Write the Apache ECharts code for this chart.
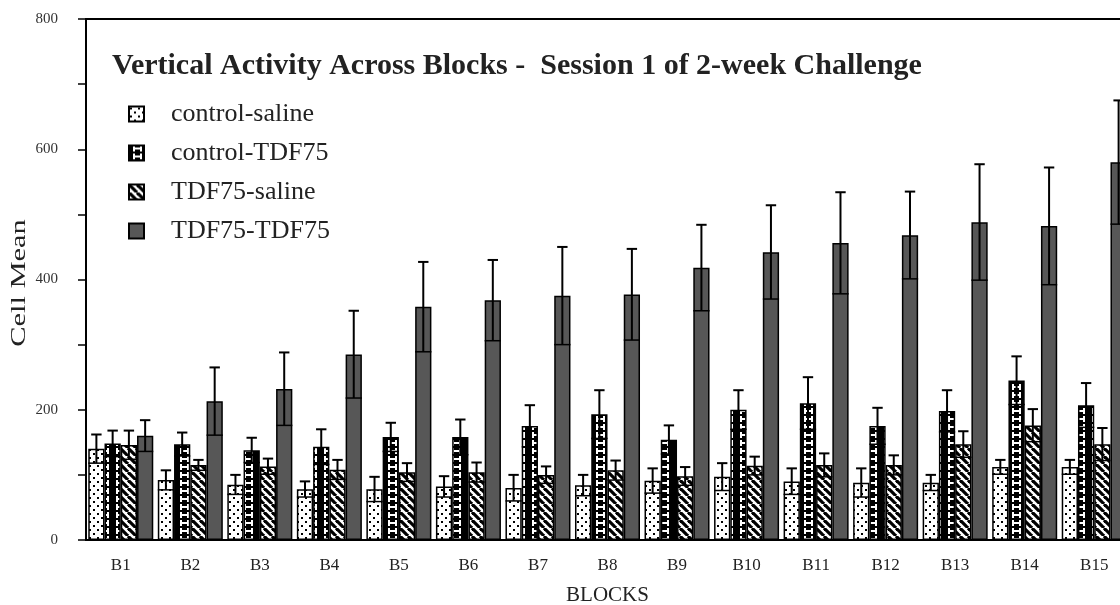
<!DOCTYPE html>
<html><head><meta charset="utf-8">
<script src="https://cdn.jsdelivr.net/npm/echarts@6/dist/echarts.min.js"></script>
<style>html,body{margin:0;padding:0;background:#fff}#c{width:1120px;height:605px}</style>
</head><body><div id="c"></div>
<script>
const categories = ['B1','B2','B3','B4','B5','B6','B7','B8','B9','B10','B11','B12','B13','B14','B15'];
const seriesNames = ['control-saline','control-TDF75','TDF75-saline','TDF75-TDF75'];
const controlSalineMean = [140, 92, 85, 78, 78, 82, 80, 84, 91, 97, 90, 88, 88, 112, 112];
const controlSalineSE   = [22, 15, 15, 12, 19, 16, 20, 16, 19, 21, 20, 22, 12, 11, 11];
const controlTDF75Mean  = [148, 147, 138, 143, 158, 158, 175, 193, 154, 200, 210, 175, 198, 245, 207];
const controlTDF75SE    = [20, 18, 19, 27, 22, 27, 32, 37, 22, 30, 40, 28, 32, 37, 34];
const tdfSalineMean     = [146, 115, 113, 108, 104, 104, 100, 107, 98, 114, 115, 115, 147, 176, 147];
const tdfSalineSE       = [22, 8, 12, 15, 14, 15, 13, 15, 14, 14, 18, 15, 20, 25, 25];
const tdfTDF75Mean      = [160, 213, 232, 285, 358, 368, 375, 377, 418, 442, 456, 468, 488, 482, 580];
const tdfTDF75SE        = [24, 52, 56, 67, 69, 62, 75, 70, 66, 72, 78, 67, 89, 90, 95];
const yTicks = [0, 200, 400, 600, 800];
const yAxisTitle = 'Cell Mean';

const means = [controlSalineMean, controlTDF75Mean, tdfSalineMean, tdfTDF75Mean];
const ses = [controlSalineSE, controlTDF75SE, tdfSalineSE, tdfTDF75SE];

function tile(w, h, draw) {
  const c = document.createElement('canvas'); c.width = w; c.height = h;
  const g = c.getContext('2d'); draw(g, w, h); return c;
}
const dots = tile(8, 8, (g) => {
  g.fillStyle = '#fff'; g.fillRect(0, 0, 8, 8);
  g.fillStyle = '#000'; g.fillRect(1, 1, 2, 2); g.fillRect(5, 5, 2, 2);
});
const brick = tile(16, 8, (g) => {
  g.fillStyle = '#000'; g.fillRect(0, 0, 16, 8);
  g.fillStyle = '#fff';
  g.fillRect(4, 0, 2, 6); g.fillRect(11, 0, 2, 6); g.fillRect(4, 2, 9, 2);
});
const diag = tile(8, 8, (g) => {
  g.fillStyle = '#fff'; g.fillRect(0, 0, 8, 8);
  g.strokeStyle = '#000'; g.lineWidth = 3.2;
  for (let k = -8; k <= 8; k += 8) { g.beginPath(); g.moveTo(k, 0); g.lineTo(k + 8, 8); g.stroke(); }
});
const fills = [
  { image: dots, repeat: 'repeat' },
  { image: brick, repeat: 'repeat' },
  { image: diag, repeat: 'repeat' },
  '#575757'
];

const catGap = 0.065;
const serif = 'Liberation Serif, Times New Roman, serif';

const barSeries = seriesNames.map((name, i) => ({
  name, type: 'bar', barGap: '0%', barCategoryGap: (catGap * 100) + '%',
  data: means[i],
  itemStyle: { color: fills[i], borderColor: '#000', borderWidth: 1.5 },
  emphasis: { disabled: true }, z: 2
}));

const errSeries = seriesNames.map((name, i) => ({
  type: 'custom', name: name + '-err', z: 5, silent: true,
  data: categories.map((c, k) => [k, means[i][k], ses[i][k]]),
  encode: { x: 0, y: 1 },
  renderItem: function (params, api) {
    const k = api.value(0), m = api.value(1), s = api.value(2);
    const band = api.size([1, 0])[0];
    const w = band * (1 - catGap) / 4;
    const x = api.coord([k, m])[0] + (i - 1.5) * w;
    const yHi = api.coord([k, m + s])[1];
    const yLo = api.coord([k, m - s])[1];
    const cap = w * 0.32;
    const st = { stroke: '#000', lineWidth: 2 };
    return { type: 'group', children: [
      { type: 'line', shape: { x1: x, y1: yLo, x2: x, y2: yHi }, style: st },
      { type: 'line', shape: { x1: x - cap, y1: yHi, x2: x + cap, y2: yHi }, style: st },
      { type: 'line', shape: { x1: x - w / 2, y1: yLo, x2: x + w / 2, y2: yLo }, style: { stroke: '#000', lineWidth: 1.5 } }
    ]};
  }
}));

const chart = echarts.init(document.getElementById('c'), null, { renderer: 'canvas' });
chart.setOption({
  animation: false,
  backgroundColor: '#fff',
  textStyle: { fontFamily: serif },
  title: {
    text: 'Vertical Activity Across Blocks -  Session 1 of 2-week Challenge',
    left: 112, top: 51, padding: 0,
    textStyle: { fontFamily: serif, fontWeight: 'bold', fontSize: 30, color: '#222' }
  },
  legend: {
    data: seriesNames, orient: 'vertical', left: 128, top: 101, padding: 0,
    icon: 'rect', itemWidth: 15, itemHeight: 15, itemGap: 13,
    textStyle: { fontFamily: serif, fontSize: 26, color: '#222', padding: [0, 0, 0, 22], lineHeight: 26 },
    selectedMode: false
  },
  graphic: [{
    type: 'text', x: 19, y: 283, rotation: Math.PI / 2, scaleX: 1.45, silent: true,
    style: { text: yAxisTitle, fontFamily: serif, fontSize: 21, fill: '#222', align: 'center', verticalAlign: 'middle' }
  }],
  grid: { left: 86, top: 19, width: 1043, height: 521, outerBoundsMode: 'none', containLabel: false,
          show: true, borderColor: '#000', borderWidth: 2, backgroundColor: 'transparent' },
  xAxis: {
    type: 'category', data: categories,
    name: 'BLOCKS', nameLocation: 'middle', nameGap: 45,
    nameTextStyle: { fontFamily: serif, fontSize: 21, color: '#222' },
    axisLine: { lineStyle: { color: '#000', width: 2 } },
    axisTick: { alignWithLabel: true, length: 7, lineStyle: { color: '#000', width: 1.5 } },
    axisLabel: { fontFamily: serif, fontSize: 17, color: '#222', margin: 17 },
    splitLine: { show: false }
  },
  yAxis: {
    type: 'value', min: yTicks[0], max: yTicks[yTicks.length - 1], interval: 200,
    axisLine: { show: true, lineStyle: { color: '#000', width: 2 } },
    axisTick: { show: true, length: 8, lineStyle: { color: '#000', width: 1.5 } },
    minorTick: { show: true, splitNumber: 2, length: 8, lineStyle: { color: '#000', width: 1.5 } },
    axisLabel: { fontFamily: serif, fontSize: 15, color: '#333', margin: 28 },
    splitLine: { show: false }
  },
  series: barSeries.concat(errSeries)
});
</script></body></html>
